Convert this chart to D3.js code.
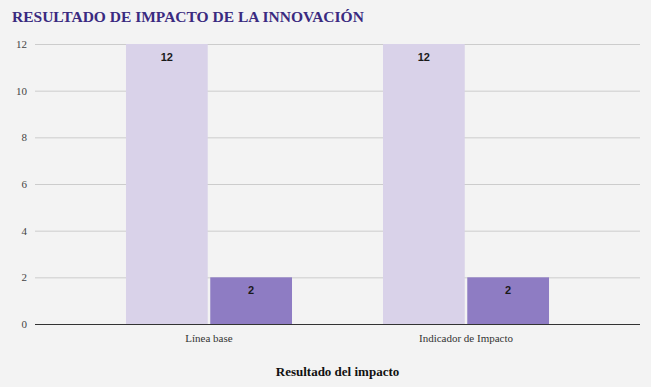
<!DOCTYPE html>
<html>
<head>
<meta charset="utf-8">
<script src="https://cdnjs.cloudflare.com/ajax/libs/d3/7.8.5/d3.min.js"></script>
<style>
  html, body { margin: 0; padding: 0; background: #f3f3f3; }
  svg { display: block; }
</style>
</head>
<body>
<div id="container"></div>
<script>
  var categories = ["Línea base", "Indicador de Impacto"];
  var seriesNames = ["Serie 1", "Serie 2"];
  var series1 = [12, 12];
  var series2 = [2, 2];
  var yTicks = [0, 2, 4, 6, 8, 10, 12];
  var colors = ["#d9d2e9", "#8e7cc3"];

  var width = 651;
  var height = 387;
  var margin = { top: 44, right: 11, bottom: 63, left: 35 };
  var serif = "'Liberation Serif', 'Times New Roman', serif";

  var svg = d3.select("#container").append("svg")
    .attr("width", width)
    .attr("height", height);

  svg.append("rect")
    .attr("width", width)
    .attr("height", height)
    .attr("fill", "#f3f3f3");

  // title
  svg.append("text")
    .attr("x", 12)
    .attr("y", 22)
    .style("font-family", serif)
    .style("font-weight", "bold")
    .style("font-size", "15.5px")
    .attr("fill", "#3a2a80")
    .text("RESULTADO DE IMPACTO DE LA INNOVACIÓN");

  var x0 = d3.scaleBand()
    .domain(categories)
    .range([margin.left, width - margin.right])
    .padding(0.354);

  var x1 = d3.scaleBand()
    .domain(seriesNames)
    .range([0, x0.bandwidth()])
    .paddingInner(0.03);

  var y = d3.scaleLinear()
    .domain([0, 12])
    .range([height - margin.bottom, margin.top]);

  // gridlines
  svg.append("g")
    .selectAll("line")
    .data(yTicks.filter(function(d) { return d > 0; }))
    .enter().append("line")
    .attr("x1", margin.left)
    .attr("x2", width - margin.right)
    .attr("y1", function(d) { return y(d) + 0.5; })
    .attr("y2", function(d) { return y(d) + 0.5; })
    .attr("stroke", "#cccccc")
    .attr("stroke-width", 1);

  // y axis labels
  var yAxis = d3.axisLeft(y)
    .tickValues(yTicks)
    .tickSize(0)
    .tickPadding(8);

  var yg = svg.append("g")
    .attr("transform", "translate(" + margin.left + ",0)")
    .call(yAxis);
  yg.select(".domain").remove();
  yg.selectAll("text")
    .style("font-family", serif)
    .style("font-size", "11px")
    .attr("fill", "#444444");

  // bars
  var rows = categories.map(function(c, i) {
    return { category: c, values: [series1[i], series2[i]] };
  });

  var groups = svg.append("g")
    .selectAll("g")
    .data(rows)
    .enter().append("g")
    .attr("transform", function(d) { return "translate(" + x0(d.category) + ",0)"; });

  var bars = groups.selectAll("g")
    .data(function(d) {
      return d.values.map(function(v, j) { return { key: seriesNames[j], value: v, idx: j }; });
    })
    .enter().append("g");

  bars.append("rect")
    .attr("x", function(d) { return x1(d.key); })
    .attr("y", function(d) { return y(d.value); })
    .attr("width", x1.bandwidth())
    .attr("height", function(d) { return y(0) - y(d.value); })
    .attr("fill", function(d) { return colors[d.idx]; });

  bars.append("text")
    .attr("x", function(d) { return x1(d.key) + x1.bandwidth() / 2; })
    .attr("y", function(d) { return y(d.value) + 17; })
    .attr("text-anchor", "middle")
    .style("font-family", "'Liberation Sans', Arial, sans-serif")
    .style("font-weight", "bold")
    .style("font-size", "11px")
    .attr("fill", "#1a1a1a")
    .text(function(d) { return d.value; });

  // x axis baseline
  svg.append("line")
    .attr("x1", margin.left)
    .attr("x2", width - margin.right)
    .attr("y1", y(0) + 0.5)
    .attr("y2", y(0) + 0.5)
    .attr("stroke", "#333333")
    .attr("stroke-width", 1);

  // category labels
  var xAxis = d3.axisBottom(x0).tickSize(0).tickPadding(10);
  var xg = svg.append("g")
    .attr("transform", "translate(0," + y(0) + ")")
    .call(xAxis);
  xg.select(".domain").remove();
  xg.selectAll("text")
    .style("font-family", serif)
    .style("font-size", "11px")
    .attr("fill", "#333333");

  // x axis title
  svg.append("text")
    .attr("x", (margin.left + width - margin.right) / 2)
    .attr("y", 376)
    .attr("text-anchor", "middle")
    .style("font-family", serif)
    .style("font-weight", "bold")
    .style("font-size", "13px")
    .attr("fill", "#111111")
    .text("Resultado del impacto");
</script>
</body>
</html>
